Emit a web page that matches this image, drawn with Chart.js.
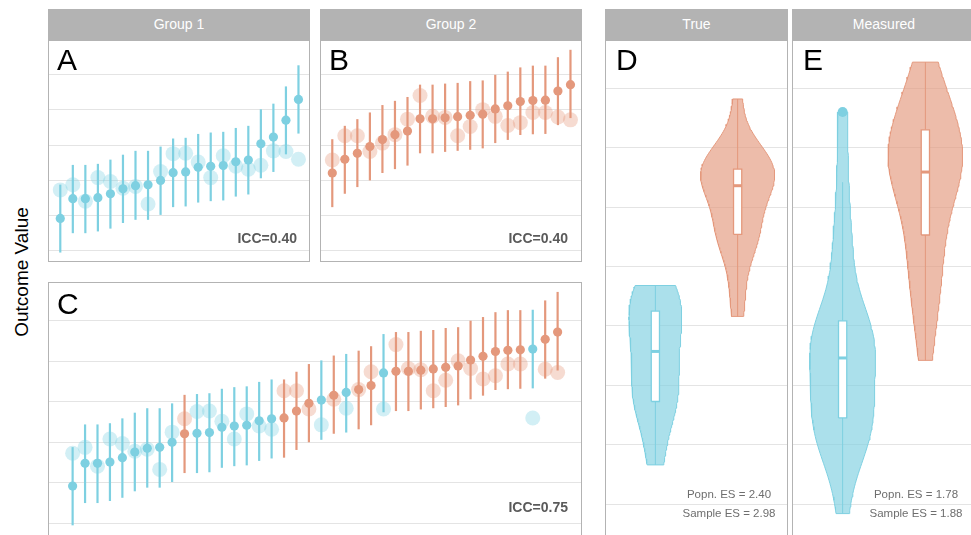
<!DOCTYPE html>
<html><head><meta charset="utf-8">
<script src="https://cdn.jsdelivr.net/npm/chart.js@4.4.1/dist/chart.umd.min.js"></script>
<style>
html,body{margin:0;padding:0;background:#fff;width:971px;height:535px;overflow:hidden;font-family:"Liberation Sans",Arial,sans-serif;}
canvas{position:absolute;}
.strip{position:absolute;background:#b3b3b3;color:#fff;font-size:14px;text-align:center;height:31px;line-height:31px;top:9px;z-index:2;}
.tag{position:absolute;font-size:30px;color:#000;line-height:30px;z-index:3;}
.icc{position:absolute;font-size:14px;font-weight:bold;color:#5a5a5a;text-align:right;width:100px;line-height:14px;z-index:3;}
.es{position:absolute;font-size:11.5px;color:#6e6e6e;text-align:center;width:130px;line-height:12px;z-index:3;white-space:nowrap;}
#ylab{position:absolute;left:22px;top:272px;transform:translate(-50%,-50%) rotate(-90deg);font-size:19px;color:#000;white-space:nowrap;}
</style></head><body>
<div class="strip" style="left:48px;width:262px;">Group 1</div>
<div class="strip" style="left:320px;width:262px;">Group 2</div>
<div class="strip" style="left:605px;width:183px;">True</div>
<div class="strip" style="left:792px;width:184px;">Measured</div>
<div id="ylab">Outcome Value</div>
<canvas id="cA" width="262" height="222" style="left:48px;top:40px;"></canvas>
<canvas id="cB" width="262" height="222" style="left:320px;top:40px;"></canvas>
<canvas id="cC" width="534" height="255" style="left:48px;top:282px;"></canvas>
<canvas id="cD" width="183" height="497" style="left:605px;top:40px;"></canvas>
<canvas id="cE" width="184" height="497" style="left:792px;top:40px;"></canvas>
<div class="tag" style="left:57px;top:45px;">A</div>
<div class="tag" style="left:329px;top:45px;">B</div>
<div class="tag" style="left:57px;top:289px;">C</div>
<div class="tag" style="left:616px;top:45px;">D</div>
<div class="tag" style="left:803px;top:45px;">E</div>
<div class="icc" style="left:197px;top:231px;">ICC=0.40</div>
<div class="icc" style="left:468px;top:231px;">ICC=0.40</div>
<div class="icc" style="left:468px;top:500px;">ICC=0.75</div>
<div class="es" style="left:664px;top:488px;">Popn. ES = 2.40</div>
<div class="es" style="left:664px;top:507px;">Sample ES = 2.98</div>
<div class="es" style="left:851px;top:488px;">Popn. ES = 1.78</div>
<div class="es" style="left:851px;top:507px;">Sample ES = 1.88</div>
<script>
// ---- data ----
const ticksTop = [0, 1, 2, 3, 4, 5];
const ticksViolin = [1, 1.5, 2, 2.5, 3, 3.5, 4, 4.5];

const g1Est  = [0.92, 1.48, 1.48, 1.51, 1.62, 1.76, 1.85, 1.875, 2.00, 2.22, 2.24, 2.37, 2.40, 2.42, 2.53, 2.58, 3.04, 3.23, 3.71, 4.30];
const g1Lo   = [-0.05, 0.50, 0.50, 0.55, 0.63, 0.79, 0.88, 0.88, 1.02, 1.24, 1.26, 1.37, 1.41, 1.43, 1.54, 1.60, 2.06, 2.24, 2.74, 3.33];
const g1Hi   = [1.88, 2.44, 2.44, 2.47, 2.59, 2.73, 2.84, 2.84, 2.96, 3.19, 3.21, 3.32, 3.36, 3.38, 3.49, 3.55, 4.02, 4.18, 4.67, 5.27];
const g1True = [1.73, 1.875, 1.41, 2.08, 1.97, 1.78, 1.83, 1.33, 2.25, 2.76, 2.77, 2.52, 2.08, 2.70, 2.40, 2.32, 2.43, 2.84, 2.82, 2.60];

const g2Est  = [2.21, 2.60, 2.77, 2.96, 3.16, 3.30, 3.40, 3.75, 3.75, 3.78, 3.81, 3.85, 3.88, 4.03, 4.12, 4.24, 4.27, 4.28, 4.54, 4.72];
const g2Lo   = [1.24, 1.62, 1.81, 2.00, 2.21, 2.32, 2.42, 2.77, 2.77, 2.81, 2.84, 2.87, 2.91, 3.06, 3.15, 3.29, 3.31, 3.32, 3.57, 3.77];
const g2Hi   = [3.17, 3.55, 3.74, 3.93, 4.14, 4.26, 4.37, 4.72, 4.72, 4.75, 4.77, 4.82, 4.84, 5.00, 5.09, 5.21, 5.26, 5.26, 5.50, 5.71];
const g2True = [2.58, 3.27, 3.27, 2.82, 3.06, 3.30, 3.74, 4.41, 3.82, 3.79, 3.27, 3.53, 4.01, 3.82, 3.56, 3.64, 3.93, 3.93, 3.80, 3.72];

// ---- styles ----
const COL = ['rgb(126,208,225)', 'rgb(228,152,124)'];
const SOFT = ['rgba(126,208,225,0.35)', 'rgba(228,152,124,0.35)'];
const FILL = ['rgba(126,208,225,0.65)', 'rgba(228,152,124,0.65)'];

const frame = {id:'frame', afterDatasetsDraw(chart){
  const a = chart.chartArea, c = chart.ctx;
  c.save(); c.strokeStyle = '#b3b3b3'; c.lineWidth = 1;
  c.strokeRect(a.left-0.5, a.top-0.5, a.right-a.left+1, a.bottom-a.top+1);
  c.restore();
}};

function opts(xmin, xmax, ymin, ymax, ticks){
  return {
    responsive:false, animation:false, events:[],
    layout:{padding:1, autoPadding:false},
    plugins:{legend:{display:false}, tooltip:{enabled:false}},
    scales:{
      x:{type:'linear', display:false, min:xmin, max:xmax},
      y:{type:'linear', min:ymin, max:ymax,
         afterBuildTicks:(ax)=>{ ax.ticks = ticks.map(v=>({value:v})); },
         grid:{color:'#e4e4e4', lineWidth:1, drawTicks:false},
         border:{display:false}, ticks:{display:false}}
    }
  };
}

function dotSets(groups){
  const ds = [];
  groups.forEach(g=>{
    ds.push({data:g.xs.map((x,i)=>({x, y:g.tru[i]})), pointRadius:7.5, pointBackgroundColor:SOFT[g.c],
             pointBorderWidth:0, order:3});
    g.xs.forEach((x,i)=>{
      ds.push({data:[{x, y:g.lo[i]},{x, y:g.hi[i]}], showLine:true, borderColor:COL[g.c], borderWidth:2.2,
               pointRadius:0, order:2, borderCapStyle:'butt'});
    });
    ds.push({data:g.xs.map((x,i)=>({x, y:g.est[i]})), pointRadius:4.6, pointBackgroundColor:COL[g.c],
             pointBorderWidth:0, order:1});
  });
  return ds;
}

function dotPanel(id, groups, xmin, xmax, ymin, ymax){
  new Chart(document.getElementById(id), {type:'scatter', data:{datasets:dotSets(groups)},
    options:opts(xmin, xmax, ymin, ymax, ticksTop), plugins:[frame]});
}

const idx = n => Array.from({length:n}, (_, i) => i + 1);

dotPanel('cA', [{xs:idx(20), est:g1Est, lo:g1Lo, hi:g1Hi, tru:g1True, c:0}], 0.1, 20.84, -0.29, 5.96);
dotPanel('cB', [{xs:idx(20), est:g2Est, lo:g2Lo, hi:g2Hi, tru:g2True, c:1}], 0.1, 20.84, -0.29, 5.96);

// panel C: both groups ranked together by estimate
const merged = [];
g1Est.forEach((v,i)=>merged.push({g:0, i, v}));
g2Est.forEach((v,i)=>merged.push({g:1, i, v}));
merged.sort((a,b)=>a.v-b.v);
const cGroups = [0,1].map(g=>{
  const o = {xs:[], est:[], lo:[], hi:[], tru:[], c:g};
  const src = g===0 ? [g1Est,g1Lo,g1Hi,g1True] : [g2Est,g2Lo,g2Hi,g2True];
  merged.forEach((m,r)=>{ if(m.g===g){ o.xs.push(r+1); o.est.push(src[0][m.i]); o.lo.push(src[1][m.i]);
                                       o.hi.push(src[2][m.i]); o.tru.push(src[3][m.i]); } });
  return o;
});
dotPanel('cC', cGroups, -0.9, 41.88, -0.313, 5.93);

// ---- violins ----
function quant(s, p){ const h=(s.length-1)*p, lo=Math.floor(h); const nx = s[Math.min(lo+1, s.length-1)]; return s[lo]+(h-lo)*(nx-s[lo]); }
function sdev(a){ const m=a.reduce((s,v)=>s+v,0)/a.length; return Math.sqrt(a.reduce((s,v)=>s+(v-m)*(v-m),0)/(a.length-1)); }
function bwNrd0(a){ const s=[...a].sort((x,y)=>x-y); const hi=sdev(a); const iqr=quant(s,.75)-quant(s,.25);
  let lo=Math.min(hi, iqr/1.34); if(!(lo>0)) lo = hi || 1; return 0.9*lo*Math.pow(a.length,-0.2); }
function dens(a, bw, y){ let t=0; for(const v of a){ const z=(y-v)/bw; t+=Math.exp(-0.5*z*z); } return t/(a.length*bw*Math.sqrt(2*Math.PI)); }

function violinPanel(id, groups){
  const prof = groups.map(g=>{
    const s=[...g.vals].sort((a,b)=>a-b), bw=bwNrd0(g.vals), n=120, lo=s[0], hi=s[s.length-1];
    const pts=[]; for(let k=0;k<=n;k++){ const y=lo+(hi-lo)*k/n; pts.push({y, d:dens(g.vals,bw,y)}); }
    return {s, pts};
  });
  const maxD = Math.max(...prof.flatMap(p=>p.pts.map(q=>q.d)));
  const ds=[];
  groups.forEach((g,gi)=>{
    const {s, pts} = prof[gi], c=g.center, hw=0.45, bx=0.05;
    const poly = pts.map(q=>({x:c+hw*q.d/maxD, y:q.y})).concat(pts.slice().reverse().map(q=>({x:c-hw*q.d/maxD, y:q.y})));
    poly.push(poly[0]);
    ds.push({data:poly, showLine:true, fill:'shape', backgroundColor:FILL[g.c], borderColor:COL[g.c], borderWidth:1,
             pointRadius:0, tension:0, order:5});
    const q1=quant(s,.25), q2=quant(s,.5), q3=quant(s,.75), iqr=q3-q1;
    const inside = s.filter(v=>v>=q1-1.5*iqr && v<=q3+1.5*iqr);
    const wl=Math.min(...inside), wh=Math.max(...inside);
    const outl = s.filter(v=>v<q1-1.5*iqr || v>q3+1.5*iqr);
    ds.push({data:[{x:c,y:wl},{x:c,y:wh}], showLine:true, borderColor:COL[g.c], borderWidth:1, pointRadius:0, order:4});
    ds.push({data:[{x:c-bx,y:q1},{x:c+bx,y:q1},{x:c+bx,y:q3},{x:c-bx,y:q3},{x:c-bx,y:q1}], showLine:true, fill:'shape',
             backgroundColor:'#ffffff', borderColor:COL[g.c], borderWidth:1.3, pointRadius:0, order:3});
    ds.push({data:[{x:c-bx,y:q2},{x:c+bx,y:q2}], showLine:true, borderColor:COL[g.c], borderWidth:3, pointRadius:0,
             borderCapStyle:'butt', order:2});
    if(outl.length) ds.push({data:outl.map(v=>({x:c,y:v})), pointRadius:5, pointBackgroundColor:COL[g.c], pointBorderWidth:0, order:1});
  });
  new Chart(document.getElementById(id), {type:'scatter', data:{datasets:ds},
    options:opts(0.4, 2.6, 0.7315, 4.898, ticksViolin), plugins:[frame]});
}

violinPanel('cD', [{center:1, vals:g1True, c:0}, {center:2, vals:g2True, c:1}]);
violinPanel('cE', [{center:1, vals:g1Est, c:0}, {center:2, vals:g2Est, c:1}]);
</script>
</body></html>
